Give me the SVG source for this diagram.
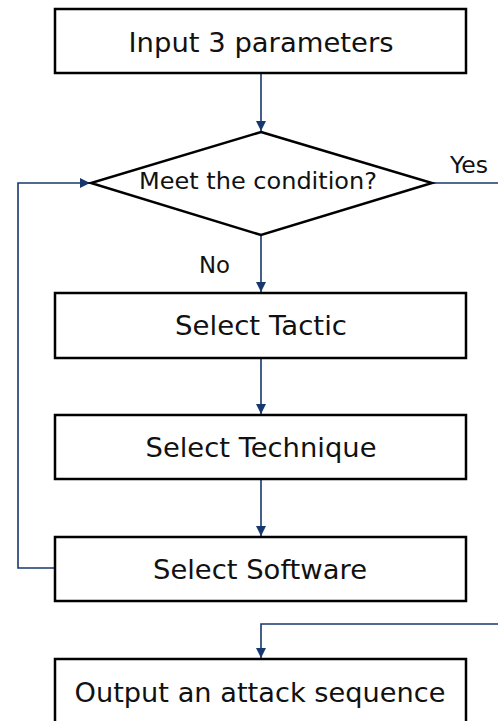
<svg xmlns="http://www.w3.org/2000/svg" width="498" height="721" viewBox="0 0 498 721">
<style>
.box{fill:#fff;stroke:#000;stroke-width:2.5}
.t{font-family:"DejaVu Sans",Verdana,sans-serif;font-size:27px;fill:#111;text-anchor:middle}
.s{font-family:"DejaVu Sans",Verdana,sans-serif;font-size:23px;fill:#111}
.c{fill:none;stroke:#17386e;stroke-width:1.6}
</style>
<defs>
<marker id="ah" viewBox="0 0 10 10" refX="10" refY="5" markerWidth="10" markerHeight="10" markerUnits="userSpaceOnUse" orient="auto">
<path d="M0,0 L10,5 L0,10 z" fill="#17386e"/>
</marker>
</defs>
<rect width="498" height="721" fill="#fff"/>
<g id="connectors">
<path class="c" d="M261,73 V131" marker-end="url(#ah)"/>
<path class="c" d="M261,235 V292" marker-end="url(#ah)"/>
<path class="c" d="M261,358 V414" marker-end="url(#ah)"/>
<path class="c" d="M261,479 V536" marker-end="url(#ah)"/>
<path class="c" d="M55,568 H18 V183 H90" marker-end="url(#ah)"/>
<path class="c" d="M432,183 H498"/>
<path class="c" d="M498,624 H261 V658" marker-end="url(#ah)"/>
<text class="s" x="450" y="173" textLength="38" lengthAdjust="spacingAndGlyphs">Yes</text>
<text class="s" x="199" y="273" textLength="31" lengthAdjust="spacingAndGlyphs">No</text>
</g>
<g id="input">
<rect class="box" x="55" y="9" width="411" height="64"/>
<text class="t" x="261" y="52" textLength="265" lengthAdjust="spacingAndGlyphs">Input 3 parameters</text>
</g>
<g id="decision">
<polygon class="box" points="261,132 432,183 261,235 91,183"/>
<text class="t" x="258" y="189" style="font-size:23px" textLength="238" lengthAdjust="spacingAndGlyphs">Meet the condition?</text>
</g>
<g id="tactic">
<rect class="box" x="55" y="293" width="411" height="65"/>
<text class="t" x="261" y="335" textLength="172" lengthAdjust="spacingAndGlyphs">Select Tactic</text>
</g>
<g id="technique">
<rect class="box" x="55" y="415" width="411" height="64"/>
<text class="t" x="261" y="457" textLength="231" lengthAdjust="spacingAndGlyphs">Select Technique</text>
</g>
<g id="software">
<rect class="box" x="55" y="537" width="411" height="64"/>
<text class="t" x="260" y="579" textLength="214" lengthAdjust="spacingAndGlyphs">Select Software</text>
</g>
<g id="output">
<rect class="box" x="55" y="659" width="411" height="64"/>
<text class="t" x="260" y="702" textLength="371" lengthAdjust="spacingAndGlyphs">Output an attack sequence</text>
</g>
</svg>
